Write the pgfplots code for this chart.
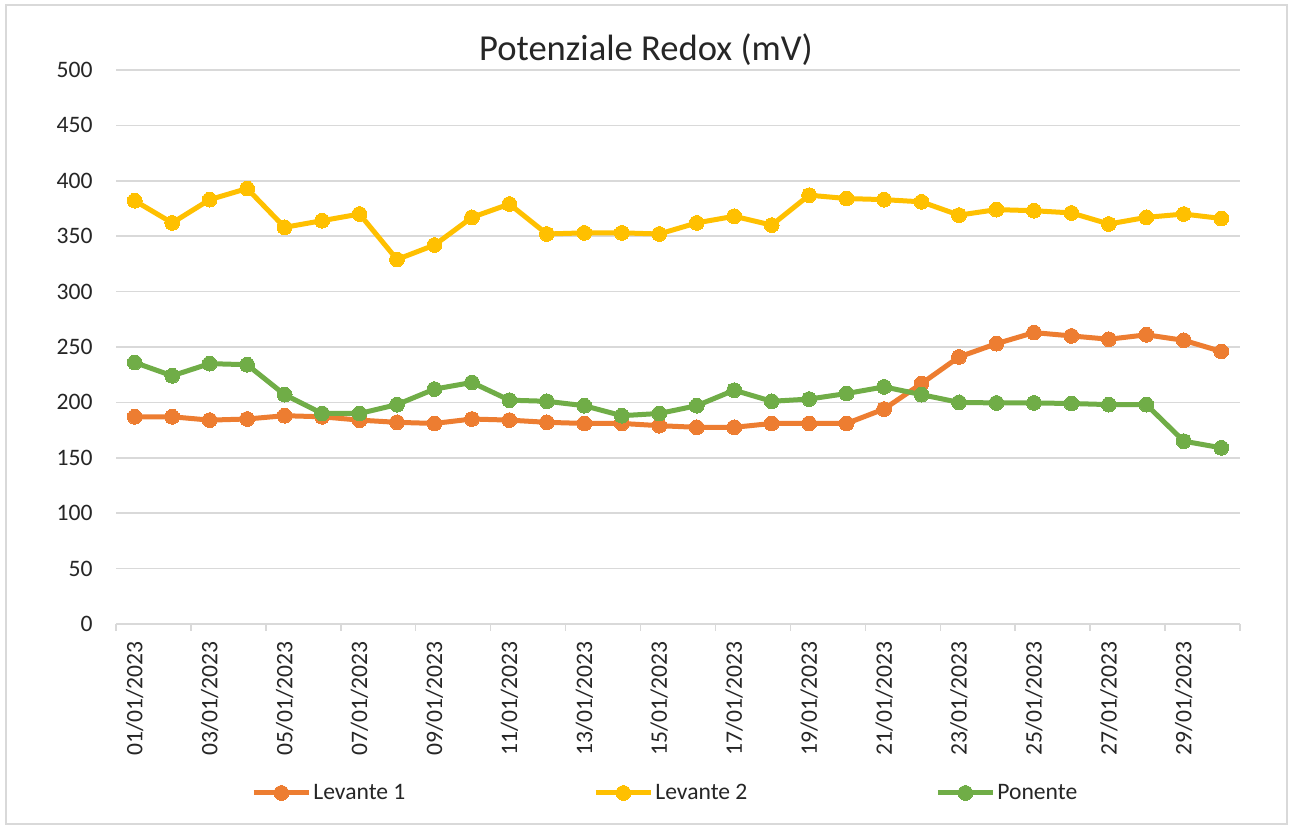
\documentclass[border=0pt]{standalone}
\usepackage{pgfplots}
\pgfplotsset{compat=1.18}
\usepackage{pgfplotstable}
\usepackage{fontspec}
\setmainfont{Carlito}
\definecolor{axisgray}{HTML}{D9D9D9}
\definecolor{txt}{HTML}{262626}
\definecolor{cOr}{HTML}{ED7D31}
\definecolor{cYe}{HTML}{FFC000}
\definecolor{cGr}{HTML}{70AD47}
\pgfplotstableread{
x L1 L2 P
0 187 382 236
1 187 362 224
2 184 383 235
3 185 393 234
4 188 358 207
5 187 364 190
6 184 370 190
7 182 329 198
8 181 342 212
9 185 367 218
10 184 379 202
11 182 352 201
12 181 353 197
13 181 353 188
14 179 352 190
15 177.5 362 197
16 177.5 368 211
17 181 360 201
18 181 387 203
19 181 384 208
20 194 383 214
21 217 381 207
22 241 369 200
23 253 374 199.5
24 263 373 199.5
25 260 371 199
26 257 361 198
27 261 367 198
28 256 370 165
29 246 366 159
}\data
\begin{document}
\begin{tikzpicture}
\fill[white] (0,0) rectangle (646pt,414pt);
\useasboundingbox (0,0) rectangle (646pt,414pt);
\draw[axisgray, line width=0.75pt] (3pt,2pt) rectangle (643.5pt,411.5pt);
\begin{axis}[
  at={(58pt,102pt)}, anchor=south west,
  width=562pt, height=277pt, scale only axis,
  xmin=-0.5, xmax=29.5, ymin=0, ymax=500,
  axis x line=bottom, axis y line=left,
  x axis line style={draw=axisgray, line width=0.75pt, -},
  y axis line style={draw=none},
  ytick={0,50,...,500},
  ytick style={draw=none},
  ymajorgrids, grid style={axisgray, line width=0.75pt},
  xtick={-0.5,1.5,...,29.5},
  xticklabels={},
  tick align=outside,
  major tick length=3.5pt,
  xtick style={draw=axisgray, line width=0.75pt},
  extra x ticks={0,2,...,28},
  extra x tick labels={01/01/2023,03/01/2023,05/01/2023,07/01/2023,09/01/2023,11/01/2023,13/01/2023,15/01/2023,17/01/2023,19/01/2023,21/01/2023,23/01/2023,25/01/2023,27/01/2023,29/01/2023},
  extra x tick style={major tick length=0pt, grid=none},
  xticklabel style={yshift=-8.5pt, rotate=90, anchor=east, inner sep=0pt, font=\fontsize{11.8}{14}\selectfont, text=txt},
  yticklabel style={inner sep=0pt, xshift=-8pt, font=\fontsize{11.8}{14}\selectfont, text=txt},
  /pgf/number format/assume math mode=true,
  title={Potenziale Redox (mV)},
  title style={at={(0.4715,0.9955)}, anchor=base, font=\fontsize{18.3}{22}\selectfont, text=txt, inner sep=0pt},
  legend columns=3,
  legend style={draw=none, fill=none, inner sep=0pt, at={(0.1201,-0.305)}, anchor=west,
    font=\fontsize{11.8}{14}\selectfont, text=txt,
    nodes={inner xsep=1pt, inner ysep=1pt, anchor=west}},
  legend image code/.code={
    \draw[mark repeat=2,mark phase=2,#1] plot coordinates {(0pt,0pt) (13.75pt,0pt) (27.5pt,0pt)};
  },
  every axis plot/.append style={line width=2.5pt, mark=*, mark size=3.7pt},
]
\addplot[cOr, mark options={fill=cOr, draw=cOr, line width=0pt}] table[x=x, y=L1] {\data};
\addlegendentry{\makebox[139pt][l]{Levante 1}}
\addplot[cYe, mark options={fill=cYe, draw=cYe, line width=0pt}] table[x=x, y=L2] {\data};
\addlegendentry{\makebox[139pt][l]{Levante 2}}
\addplot[cGr, mark options={fill=cGr, draw=cGr, line width=0pt}] table[x=x, y=P] {\data};
\addlegendentry{\makebox[139pt][l]{Ponente}}
\end{axis}
\end{tikzpicture}
\end{document}
